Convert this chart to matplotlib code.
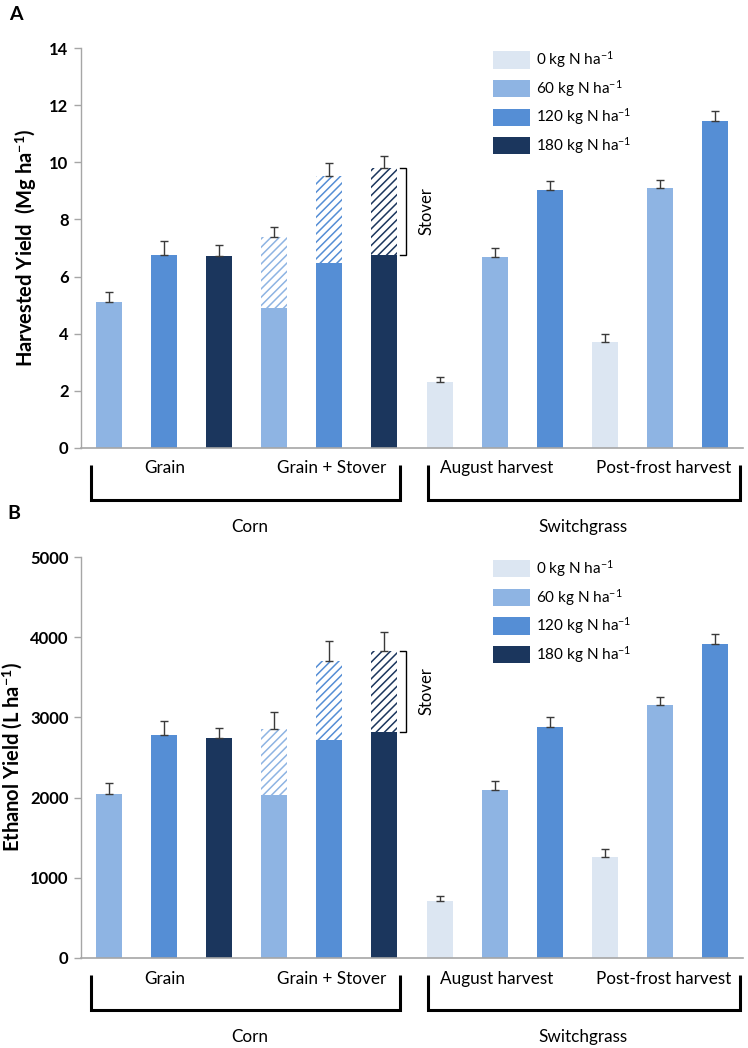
import matplotlib
matplotlib.use('Agg')
import matplotlib.pyplot as plt
from matplotlib.patches import Patch
import numpy as np

plt.rcParams['font.family'] = ['Lato', 'DejaVu Sans']
plt.rcParams['mathtext.fontset'] = 'custom'
plt.rcParams['mathtext.rm'] = 'Lato'
plt.rcParams['mathtext.bf'] = 'Lato:bold'
plt.rcParams['mathtext.it'] = 'Lato:italic'
plt.rcParams['hatch.linewidth'] = 1.1

# ---------------- data ----------------
rate_labels = ['0 kg N ha$^{-1}$', '60 kg N ha$^{-1}$', '120 kg N ha$^{-1}$', '180 kg N ha$^{-1}$']
rate_colors = ['#DCE6F2', '#8EB4E3', '#558ED5', '#1B365D']

# N-rate index of each of the 12 bars
bar_rate = [1, 2, 3, 1, 2, 3, 0, 1, 2, 0, 1, 2]

sub_labels = ['Grain', 'Grain + Stover', 'August harvest', 'Post-frost harvest']
crop_labels = ['Corn', 'Switchgrass']

# Panel A: harvested yield (Mg/ha)
harvest_base = [5.10, 6.75, 6.73, 4.88, 6.48, 6.76, 2.29, 6.67, 9.02, 3.70, 9.10, 11.46]
harvest_stover = [0, 0, 0, 2.50, 3.03, 3.06, 0, 0, 0, 0, 0, 0]
harvest_err = [0.36, 0.49, 0.38, 0.37, 0.47, 0.39, 0.19, 0.34, 0.34, 0.28, 0.28, 0.33]

# Panel B: ethanol yield (L/ha)
ethanol_base = [2044, 2777, 2743, 2031, 2714, 2822, 708, 2094, 2884, 1257, 3151, 3920]
ethanol_stover = [0, 0, 0, 821, 986, 1003, 0, 0, 0, 0, 0, 0]
ethanol_err = [141, 174, 129, 212, 250, 237, 62, 112, 121, 104, 104, 121]

W, H = 748, 1048
fig = plt.figure(figsize=(W / 100, H / 100), dpi=100)

axA = fig.add_axes([81 / W, 1 - 447.7 / H, 662 / W, 399.4 / H])
axB = fig.add_axes([81 / W, 1 - 957.7 / H, 662 / W, 400.5 / H])

x = np.arange(len(bar_rate))
bw = 0.47


def draw(ax, base, stover, err, ymax, ystep, ylabel, ylabel_x):
    base = np.array(base, float)
    stover = np.array(stover, float)
    err = np.array(err, float)
    cols = [rate_colors[r] for r in bar_rate]
    ax.bar(x, base, width=bw, color=cols, linewidth=0, zorder=2)
    for i in range(len(x)):
        if stover[i] > 0:
            ax.bar(x[i], stover[i], bottom=base[i], width=bw, color='white',
                   edgecolor=cols[i], hatch='////', linewidth=0, zorder=2)
    total = base + stover
    ax.errorbar(x, total, yerr=[np.zeros_like(err), err], fmt='none',
                ecolor='#3a3a3a', elinewidth=1.0, capsize=2.6, capthick=1.0, zorder=3)

    ax.set_xlim(-0.5, len(x) - 0.5)
    ax.set_ylim(0, ymax)
    ax.set_yticks(np.arange(0, ymax + ystep / 2, ystep))
    ax.set_xticks([])
    for s in ['top', 'right']:
        ax.spines[s].set_visible(False)
    ax.spines['left'].set_color('#a6a6a6')
    ax.spines['bottom'].set_color('#a6a6a6')
    ax.spines['left'].set_linewidth(1.0)
    ax.spines['bottom'].set_linewidth(1.2)
    ax.tick_params(axis='y', length=5, color='#a6a6a6', width=1.0, pad=4,
                   labelsize=12, labelcolor='black')
    for t in ax.get_yticklabels():
        t.set_fontweight('bold')
    ax.set_ylabel(ylabel, fontsize=14.5, fontweight='bold')
    ax.yaxis.set_label_coords(ylabel_x, 0.5)

    # Stover bracket on the 180 kg bar
    i6 = 5
    xb0, xb1 = 5.28, 5.39
    ax.plot([xb0, xb1, xb1, xb0], [total[i6], total[i6], base[i6], base[i6]],
            color='black', lw=1.0, zorder=3, solid_joinstyle='miter')
    ax.text(5.77, (total[i6] + base[i6]) / 2, 'Stover', rotation=90,
            ha='center', va='center', fontsize=12)

    # legend
    handles = [Patch(facecolor=c, edgecolor='none') for c in rate_colors]
    ax.legend(handles, rate_labels, loc='upper left', bbox_to_anchor=(0.622, 0.997),
              frameon=False, fontsize=11, handlelength=2.45, handleheight=1.35,
              labelspacing=0.5, handletextpad=0.4, borderpad=0, borderaxespad=0)

    # group brackets under the axis
    tr = ax.get_xaxis_transform()
    y_top, y_bot = -0.043, -0.131
    for (xl, xr) in [(-0.32, 5.28), (5.79, 11.44)]:
        ax.plot([xl, xl, xr, xr], [y_top, y_bot, y_bot, y_top], transform=tr,
                color='black', lw=2.2, clip_on=False, solid_joinstyle='miter',
                solid_capstyle='butt')
    for xs, lab in zip([1.02, 4.05, 7.04, 10.07], sub_labels):
        ax.text(xs, -0.052, lab, transform=tr, ha='center', va='center', fontsize=12.3)
    for xs, lab in zip([2.56, 8.6], crop_labels):
        ax.text(xs, -0.199, lab, transform=tr, ha='center', va='center', fontsize=12.3)


draw(axA, harvest_base, harvest_stover, harvest_err, 14, 2,
     'Harvested Yield  (Mg ha$^{\\mathbf{-1}}$)', -0.063)
draw(axB, ethanol_base, ethanol_stover, ethanol_err, 5000, 1000,
     'Ethanol Yield (L ha$^{\\mathbf{-1}}$)', -0.085)

fig.text(16 / W, 1 - 14 / H, 'A', fontsize=14, fontweight='bold', ha='center', va='center')
fig.text(14 / W, 1 - 513 / H, 'B', fontsize=14, fontweight='bold', ha='center', va='center')

fig.savefig('out.png', dpi=100)
